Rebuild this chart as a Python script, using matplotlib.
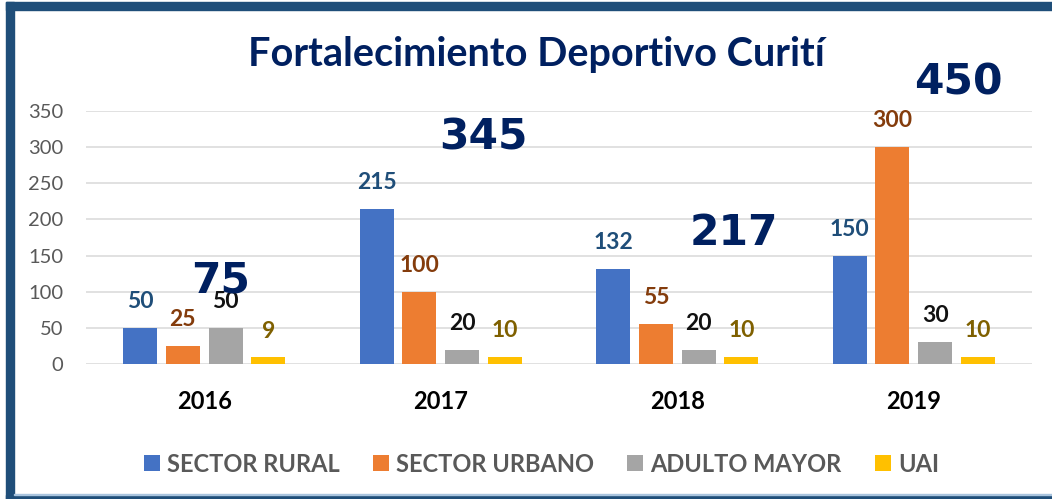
import numpy as np
import matplotlib
matplotlib.use("Agg")
import matplotlib.pyplot as plt
from matplotlib.patches import Rectangle

plt.rcParams['font.family'] = ['Lato', 'DejaVu Sans']

# datos
years = ['2016', '2017', '2018', '2019']
series = ['SECTOR RURAL', 'SECTOR URBANO', 'ADULTO MAYOR', 'UAI']
rural = [50, 215, 132, 150]
urbano = [25, 100, 55, 300]
adulto = [50, 20, 20, 30]
uai = [9, 10, 10, 10]
totals = [75, 345, 217, 450]

values = [rural, urbano, adulto, uai]
bar_colors = ['#4472C4', '#ED7D31', '#A5A5A5', '#FFC000']
label_colors = ['#1F4E79', '#843C0C', '#111111', '#7F6000']

# posicion de los totales grandes (dx respecto al grupo, y en unidades del eje)
total_pos = [(0.07, 116), (0.18, 314), (0.24, 181), (0.19, 389)]

fig = plt.figure(figsize=(10.52, 4.99), dpi=100)
ax = fig.add_axes([86 / 1052, 1 - 364 / 499, 946 / 1052, 253 / 499])

x = np.arange(len(years))
step = 0.181
width = 0.1435
bars = []
for i, (vals, col) in enumerate(zip(values, bar_colors)):
    pos = x + (i - 1.5) * step
    b = ax.bar(pos, vals, width, color=col, label=series[i], zorder=3)
    bars.append(b)
    for px, v in zip(pos, vals):
        ax.annotate(str(v), xy=(px, v), xytext=(0, 19), textcoords='offset points',
                    ha='center', va='center', fontsize=16.5, fontweight='bold',
                    color=label_colors[i], zorder=4)

# totales grandes
for xi, t, (dx, ty) in zip(x, totals, total_pos):
    ax.text(xi + dx, ty, str(t), ha='center', va='center', fontsize=30.5,
            fontweight='bold', family='DejaVu Sans', color='#002060',
            clip_on=False, zorder=5)

ax.set_xlim(-0.5, 3.5)
ax.set_ylim(0, 350)
ax.set_yticks(range(0, 351, 50))
ax.set_xticks(x)
ax.set_xticklabels(years, fontsize=17, fontweight='bold', color='black')
ax.tick_params(axis='x', length=0, pad=18.5)
ax.tick_params(axis='y', length=0, pad=16.5, labelsize=14.5, labelcolor='#595959')
ax.yaxis.grid(True, color='#D9D9D9', linewidth=1.1, zorder=0)
ax.set_axisbelow(True)
for s in ax.spines.values():
    s.set_visible(False)

fig.text(536 / 1052, 1 - 66 / 499, 'Fortalecimiento Deportivo Curití',
         ha='center', va='baseline', fontsize=28.5, fontweight='bold', color='#002060')

leg = fig.legend(handles=bars, labels=series, loc='center',
                 bbox_to_anchor=(541.5 / 1052, 1 - 464 / 499), ncol=4, frameon=False,
                 handlelength=0.68, handleheight=0.64, handletextpad=0.3,
                 columnspacing=1.4, prop={'size': 17, 'weight': 'bold'})
for t in leg.get_texts():
    t.set_color('#595959')

# marco azul
frame = '#1F4E79'
fig.patches.append(Rectangle((6 / 1052, 0), 8 / 1052, 497 / 499, transform=fig.transFigure,
                             color=frame, zorder=10))
fig.patches.append(Rectangle((6 / 1052, 1 - 10 / 499), 1046 / 1052, 8 / 499,
                             transform=fig.transFigure, color=frame, zorder=10))
fig.patches.append(Rectangle((6 / 1052, 0), 1046 / 1052, 4 / 499, transform=fig.transFigure,
                             color=frame, zorder=10))
fig.patches.append(Rectangle((14 / 1052, 4 / 499), 1038 / 1052, 1.5 / 499,
                             transform=fig.transFigure, color='#A9C4DE', zorder=10))

fig.savefig('out.png', dpi=100)
